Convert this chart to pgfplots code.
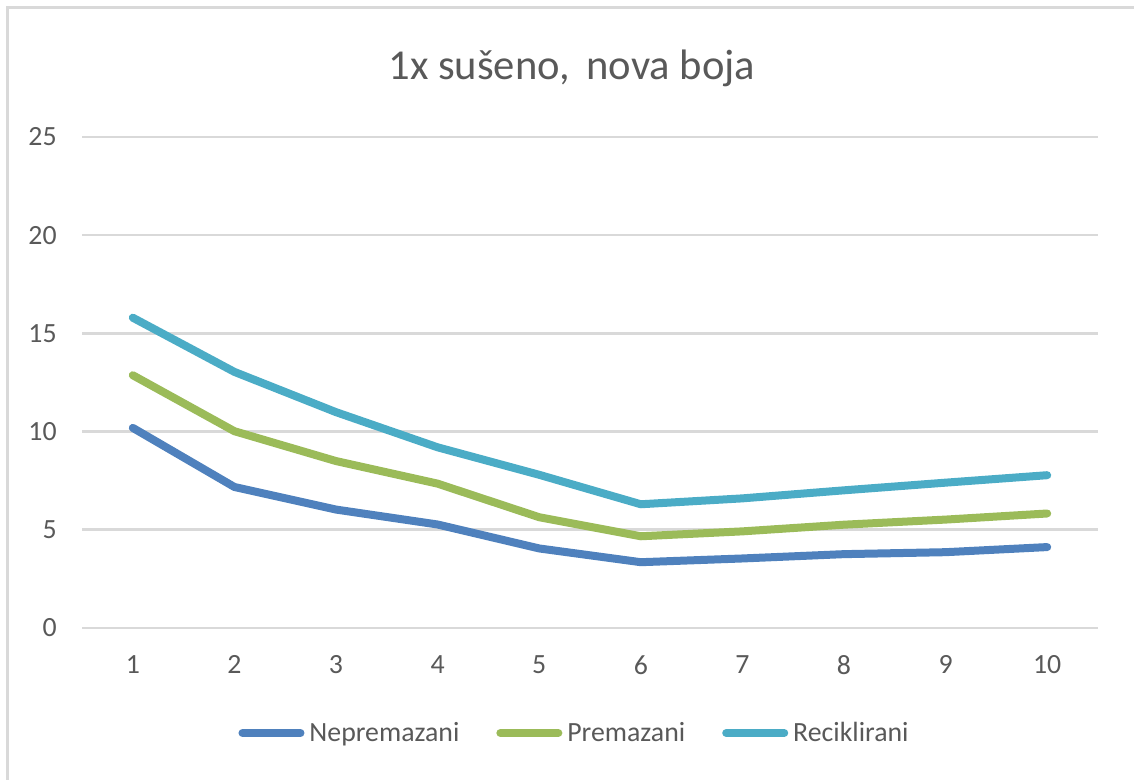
\documentclass[border=0pt]{standalone}
\usepackage{fontspec}
\setmainfont{Carlito}
\usepackage{pgfplots}
\pgfplotsset{compat=1.18}
\definecolor{txt}{HTML}{595959}
\definecolor{grid}{HTML}{D9D9D9}
\definecolor{cA}{HTML}{4F81BD}
\definecolor{cB}{HTML}{9BBB59}
\definecolor{cC}{HTML}{4BACC6}
\begin{document}
\begin{tikzpicture}[x=1pt,y=1pt]
\useasboundingbox (0,0) rectangle (567,390);
\draw[grid, line width=1.5pt] (3.75,0) -- (3.75,386) -- (567,386);
\node[anchor=base, font=\fontsize{21.3}{25}\selectfont, text=txt, inner sep=0pt] at (286,350) {1x sušeno,\, nova boja};
\begin{axis}[
  at={(41pt,76pt)}, anchor=south west,
  scale only axis, width=508pt, height=245.5pt,
  xmin=0.5, xmax=10.5, ymin=0, ymax=25,
  xtick={1,...,10}, ytick={0,5,...,25},
  axis line style={draw=none},
  major tick length=0pt, tick style={draw=none},
  xmajorgrids=false, ymajorgrids=true,
  y grid style={grid, line width=1.3pt},
  /pgf/number format/assume math mode=true,
  ticklabel style={font=\fontsize{13.9}{16}\selectfont, text=txt, inner sep=0pt},
  yticklabel style={anchor=east, xshift=-12.5pt},
  xticklabel style={anchor=north, yshift=-13.5pt},
  clip=false,
  legend columns=3,
  legend style={at={(0.4843,-0.2138)}, anchor=center, draw=none, fill=none,
    font=\fontsize{13.9}{16}\selectfont, text=txt, inner sep=0pt,
    /tikz/every odd column/.append style={column sep=2pt},
    /tikz/every even column/.append style={column sep=18pt},
    nodes={inner sep=0.5pt}},
  legend cell align=left,
  legend image code/.code={\draw[#1, line cap=round] (2pt,0pt) -- (31pt,0pt);},
  every axis plot/.append style={line width=4pt, line cap=round, line join=round},
]
\addplot[cA] coordinates {(1,10.19) (2,7.18) (3,6.03) (4,5.27) (5,4.05) (6,3.35) (7,3.54) (8,3.76) (9,3.86) (10,4.12)};
\addlegendentry{Nepremazani}
\addplot[cB] coordinates {(1,12.87) (2,10.02) (3,8.5) (4,7.35) (5,5.64) (6,4.67) (7,4.92) (8,5.26) (9,5.52) (10,5.83)};
\addlegendentry{Premazani}
\addplot[cC] coordinates {(1,15.8) (2,13.04) (3,10.99) (4,9.2) (5,7.8) (6,6.3) (7,6.6) (8,7.01) (9,7.4) (10,7.78)};
\addlegendentry{Reciklirani}
\end{axis}
\end{tikzpicture}
\end{document}
